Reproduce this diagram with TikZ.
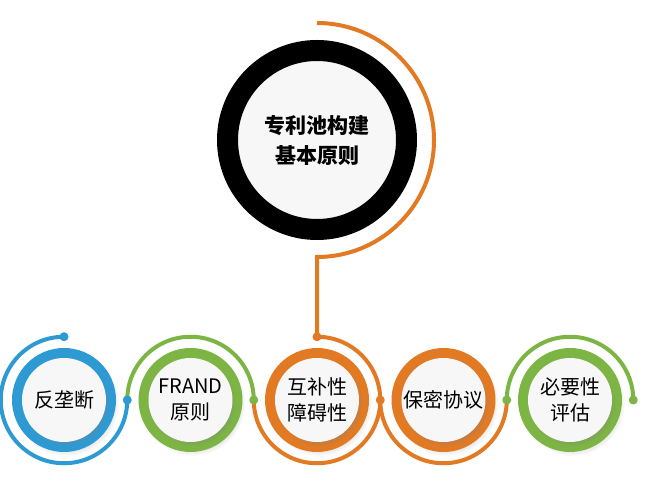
\documentclass[tikz,border=0pt]{standalone}
\usepackage{fontspec}
\newfontfamily\cjk{Noto Sans CJK SC}
\usetikzlibrary{shadows}
\definecolor{poolblue}{HTML}{2E9AD4}
\definecolor{poolgreen}{HTML}{7DB544}
\definecolor{poolorange}{HTML}{E27A24}
\definecolor{poolwhite}{HTML}{F7F7F7}

\tikzset{
  ring/.style={circle, fill=#1, inner sep=0pt, minimum size=104pt,
    circular drop shadow={shadow xshift=2pt, shadow yshift=-3pt, shadow scale=1.02, opacity=0.25}},
  face/.style={circle, fill=poolwhite, inner sep=0pt, minimum size=84pt, align=center,
    font=\cjk\fontsize{20}{26}\selectfont,
    circular drop shadow={shadow xshift=2pt, shadow yshift=-3pt, shadow scale=1.04, opacity=0.35}},
  joint/.style={circle, fill=#1, inner sep=0pt, minimum size=9pt},
}

\begin{document}
\begin{tikzpicture}[x=1pt, y=1pt]
   \useasboundingbox (0,0) rectangle (660,489);
   % centre circle
   \node[circle, draw=black, line width=21pt, fill=poolwhite, minimum size=179pt,
     align=center, font=\cjk\bfseries\fontsize{21}{30}\selectfont] (pool) at (317,349) {专利池构建\\基本原则};
   % principle circles
   \node[ring=poolblue] (r1) at (64,89) {};
   \node[ring=poolgreen] (r2) at (190.5,89) {};
   \node[ring=poolorange] (r3) at (317,89) {};
   \node[ring=poolorange] (r4) at (443.5,89) {};
   \node[ring=poolgreen] (r5) at (570,89) {};
   \begin{scope}[every node/.style={face}]
    \node (c1) at (64,89) {反垄断};
    \node (c2) at (190.5,89) {FRAND\\原则};
    \node (c3) at (317,89) {互补性\\障碍性};
    \node (c4) at (443.5,89) {保密协议};
    \node (c5) at (570,89) {必要性\\评估};
   \end{scope}
   % joints
   \coordinate (t0) at (317,466);
   \coordinate (j1) at (64,152.25);
   \coordinate (j2) at (127.25,89);
   \coordinate (j3) at (253.75,89);
   \coordinate (j4) at (317,152.25);
   \coordinate (j5) at (380.25,89);
   \coordinate (j6) at (506.75,89);
   \coordinate (j7) at (633.25,89);
   \begin{scope}[line width=4pt]
    \draw[poolorange] (t0) arc[start angle=90, end angle=-90, radius=117] -- (j4);
    \draw[poolblue] (j1) arc[start angle=90, end angle=360, radius=63.25];
    \draw[poolgreen] (j2) arc[start angle=180, end angle=0, radius=63.25];
    \draw[poolorange] (j4) arc[start angle=90, end angle=-180, radius=63.25];
    \draw[poolorange] (j5) arc[start angle=180, end angle=360, radius=63.25];
    \draw[poolgreen] (j6) arc[start angle=180, end angle=0, radius=63.25];
   \end{scope}
   \node[joint=poolblue] (d1) at (j1) {};
   \node[joint=poolblue] (d2) at (j2) {};
   \node[joint=poolgreen] (d3) at (j3) {};
   \node[joint=poolorange] (d4) at (j4) {};
   \node[joint=poolorange] (d5) at (j5) {};
   \node[joint=poolgreen] (d6) at (j6) {};
   \node[joint=poolgreen] (d7) at (j7) {};
\end{tikzpicture}
\end{document}
